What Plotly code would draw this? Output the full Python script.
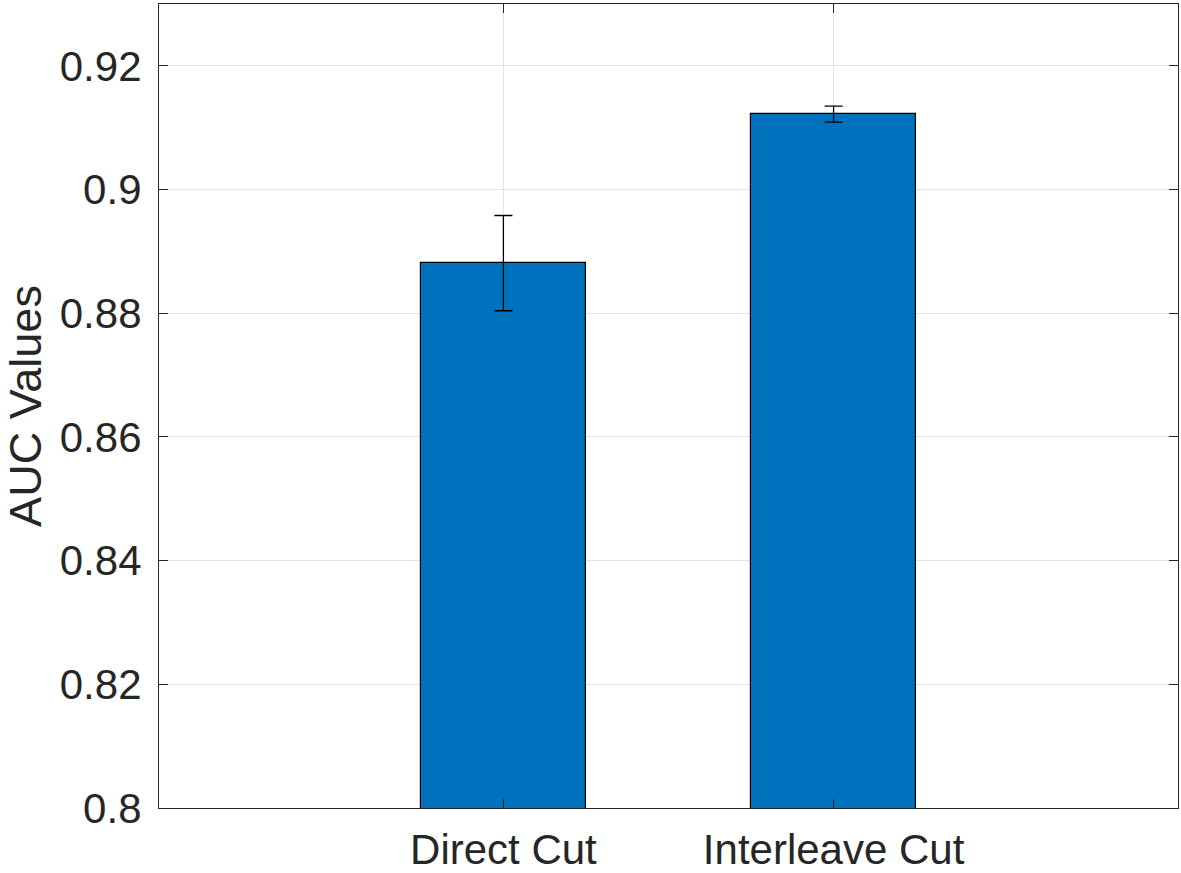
import plotly.graph_objects as go

# AUC results for the two cutting strategies
categories = ["Direct Cut", "Interleave Cut"]
positions = [1, 2]
auc_mean = [0.8881, 0.9122]
auc_err = [0.0077, 0.0013]
y_ticks = [0.8, 0.82, 0.84, 0.86, 0.88, 0.9, 0.92]

fig = go.Figure()

fig.add_trace(go.Bar(
    x=positions,
    y=auc_mean,
    width=0.5,
    marker=dict(color="#0072BD", line=dict(color="#000000", width=1.2)),
    error_y=dict(type="data", array=auc_err, visible=True,
                 color="#000000", thickness=1.3, width=9),
))

axis_col = "#262626"
fig.update_layout(
    width=1181, height=873,
    margin=dict(l=159, r=3, t=4, b=65),
    plot_bgcolor="white", paper_bgcolor="white",
    font=dict(family="Liberation Sans, Arial, sans-serif", size=42, color=axis_col),
    showlegend=False,
    bargap=0,
    xaxis=dict(
        range=[-0.043, 3.043], automargin=False,
        tickvals=positions, ticktext=categories,
        showgrid=True, gridcolor="#e3e3e3", gridwidth=1,
        ticks="inside", ticklen=9, tickcolor=axis_col,
        showline=True, linecolor=axis_col, linewidth=1.2, mirror="ticks",
        zeroline=False, ticklabelstandoff=4,
    ),
    yaxis=dict(
        range=[0.8, 0.93], automargin=False,
        tickvals=y_ticks,
        showgrid=True, gridcolor="#e3e3e3", gridwidth=1,
        ticks="inside", ticklen=9, tickcolor=axis_col,
        showline=True, linecolor=axis_col, linewidth=1.2, mirror="ticks",
        zeroline=False, ticklabelstandoff=8,
        title=dict(text="AUC Values", font=dict(size=45), standoff=16),
    ),
)

# drop the default page margin so the figure sits at the window's corner
fig.write_html("out.html", config={"displayModeBar": False},
               post_script="document.body.style.margin='0';")
